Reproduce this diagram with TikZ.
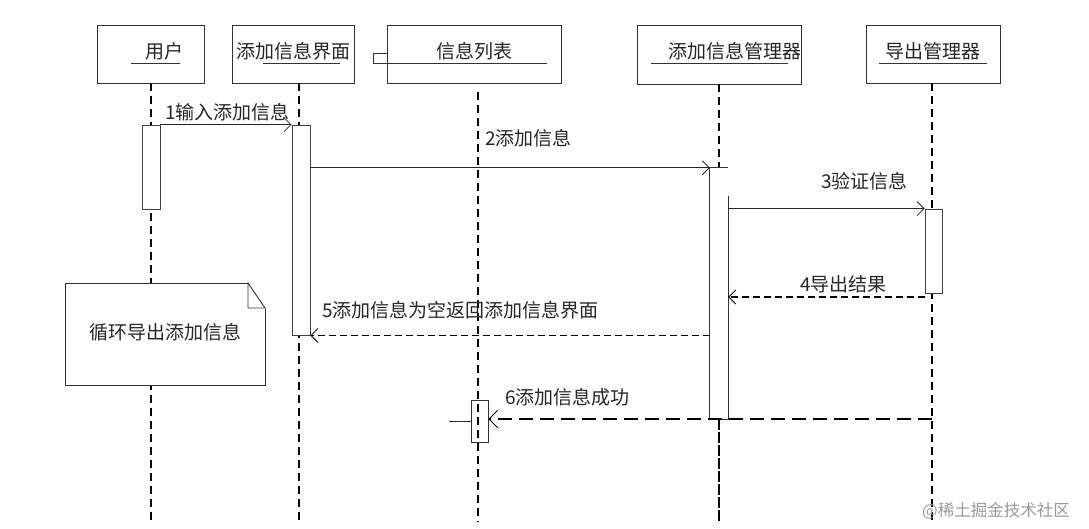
\documentclass[tikz,border=0pt]{standalone}
\usepackage{fontspec}
\setmainfont{Noto Sans CJK SC}
\usetikzlibrary{arrows.meta}
\begin{document}
\begin{tikzpicture}[x=1pt,y=-1pt,
  obj/.style={draw=black!80, line width=0.9pt, fill=white, inner sep=0pt},
  lbl/.style={inner sep=0pt, font=\fontsize{19}{19}\selectfont, text=black!85},
  uline/.style={draw=black!80, line width=0.9pt},
  life/.style={draw=black, line width=1.9pt, dash pattern=on 8pt off 5pt},
  actbar/.style={draw=black!75, line width=0.8pt, fill=white, minimum width=18pt, inner sep=0pt},
  msg/.style={draw=black!85, line width=0.8pt, -{Straight Barb[length=7pt,width=14pt,line width=0.8pt]}},
  ret/.style={draw=black, line width=1.7pt, dash pattern=on 7pt off 4pt, -{Straight Barb[length=7pt,width=14pt,line width=0.8pt]}},
  ret6/.style={draw=black, line width=2pt, dash pattern=on 14pt off 7pt, -{Straight Barb[length=9pt,width=18pt,line width=0.8pt]}}
]
\useasboundingbox (0,0) rectangle (1089,528);

% object boxes
\node[obj, minimum width=107pt, minimum height=58pt] (u) at (150.5,54) {};
\node[obj, minimum width=122pt, minimum height=58pt] (ui) at (293.5,54) {};
\node[obj, minimum width=174pt, minimum height=58pt] (lst) at (474,54) {};
\node[obj, minimum width=164pt, minimum height=59pt] (mgr) at (719,54.5) {};
\node[obj, minimum width=134pt, minimum height=58pt] (exp) at (933,54) {};

% box labels
\node[lbl] (tu) at (164,51) {用户};
\node[lbl] (tui) at (293.5,51) {添加信息界面};
\node[lbl] (tlst) at (474.5,51) {信息列表};
\node[lbl] (tmgr) at (735,51) {添加信息管理器};
\node[lbl] (texp) at (932.5,51) {导出管理器};

% underlines
\draw[uline] (131,63) -- (180,63);
\draw[uline] (263,63) -- (340,63);
\draw[uline] (387,63) -- (547,63);
\draw[uline] (651,63) -- (788,63);
\draw[uline] (879,63) -- (987,63);
% small bracket near list box
\draw[uline] (lst.west |- 0,53) -- (373,53) -- (373,63) -- (lst.west |- 0,63);

% lifeline ends
\coordinate (ue) at (151,522);
\coordinate (uie) at (299,522);
\coordinate (lste) at (478,522);
\coordinate (mgre) at (719,522);
\coordinate (expe) at (932,522);

\draw[life] (u.south -| ue) -- (ue);
\draw[life] (ui.south -| uie) -- (uie);
\draw[life] (478,92) -- (lste);
\draw[life] (mgr.south -| mgre) -- (mgre);
\draw[life] (exp.south -| expe) -- (expe);

% note
\node[draw=black!80, line width=0.9pt, fill=white, minimum width=200pt, minimum height=102pt, inner sep=0pt] (note) at (165,334) {};
\fill[white] (248,282) -- (266,282) -- (266,309) -- cycle;
\draw[black!80, line width=0.9pt] (248,283) -- (265,308) -- (248,308) -- cycle;
\node[lbl] (tnote) at (165,332) {循环导出添加信息};

% activation bars
\node[actbar, minimum height=84pt] (a1) at (151,167) {};
\node[actbar, minimum height=210pt] (a2) at (301,230) {};
\node[minimum width=18pt, minimum height=251pt, inner sep=0pt, fill=white] (a3) at (719,293.5) {};
\draw[black!80, line width=0.8pt] (a3.east |- 0,196) -- (a3.south east) -- (a3.south west) -- (a3.north west) -- (a3.north east);
\draw[life] (a3.south -| mgre) -- (mgre);
\node[actbar, minimum width=17pt, minimum height=84pt] (a4) at (933.5,251) {};
\node[draw=black!80, line width=0.8pt, minimum width=17pt, minimum height=42pt, inner sep=0pt] (a5) at (479.5,421) {};
\coordinate (stub) at (449,421);
\draw[black!80, line width=0.8pt] (stub) -- (a5.west);

% messages
\draw[msg] (a1.north east) -- (a2.north west);
\node[lbl, anchor=west] (m1) at (165,112) {1输入添加信息};

\draw[msg] (a2.east |- a3.north) -- (a3.north west);
\node[lbl, anchor=west] (m2) at (485,138) {2添加信息};

\draw[msg] (a3.east |- a4.north) -- (a4.north west);
\node[lbl, anchor=west] (m3) at (821,181) {3验证信息};

\draw[ret] (a4.west |- 0,297) -- (a3.east |- 0,297);
\node[lbl, anchor=west] (m4) at (800,284) {4导出结果};

\draw[ret] (a3.west |- a2.south) -- (a2.south east);
\node[lbl, anchor=west] (m5) at (322,310) {5添加信息为空返回添加信息界面};

\draw[ret6] (932,419) -- (a5.east |- 0,419);
\node[lbl, anchor=west] (m6) at (505,397) {6添加信息成功};

% watermark
\node[inner sep=0pt, anchor=west, font=\fontsize{16.5}{16.5}\selectfont, text=black!40] (wm) at (922,511) {@稀土掘金技术社区};
\end{tikzpicture}
\end{document}
